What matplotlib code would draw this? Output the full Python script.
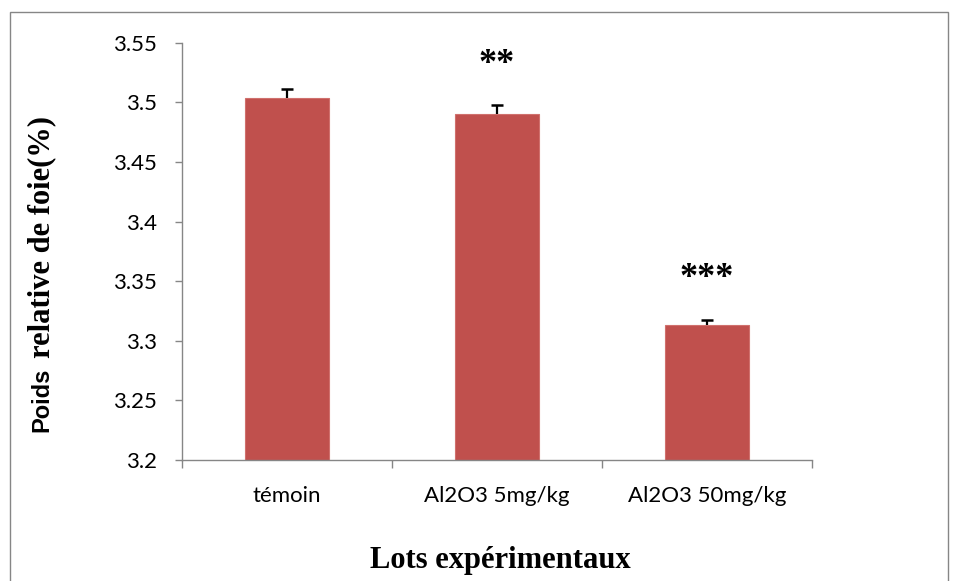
import matplotlib.pyplot as plt
import numpy as np
from matplotlib.patches import Rectangle

# data
lots = ['témoin', 'Al2O3 5mg/kg', 'Al2O3 50mg/kg']
poids = [3.504, 3.490, 3.313]
erreur = [0.0075, 0.008, 0.0045]
signif = ['', '**', '***']
signif_y = [0, 3.532, 3.352]

bar_color = '#C0504D'
axis_gray = '#868686'

fig = plt.figure(figsize=(9.58, 5.81), dpi=100)
ax = fig.add_axes([0.19, 0.2083, 0.6576, 0.7182])

x = np.arange(len(lots))
ax.bar(x, poids, width=0.4, color=bar_color, edgecolor='#D0706D', linewidth=0.8, zorder=2)
# upper error bars only (stem + top cap)
haut = np.array(poids) + np.array(erreur)
ax.vlines(x, poids, haut, color='black', linewidth=1.6, zorder=3)
ax.plot(x, haut, linestyle='none', marker='_', markersize=9, mew=1.8,
        color='black', zorder=3)

for xi, s, sy in zip(x, signif, signif_y):
    if s:
        ax.text(xi, sy, s, ha='center', va='center', fontsize=26,
                fontweight='bold', family='Liberation Serif')

ax.set_xlim(-0.5, 2.5)
ax.set_ylim(3.2, 3.55)
ax.set_yticks(np.arange(3.2, 3.5501, 0.05))
ax.set_yticklabels(['3.2', '3.25', '3.3', '3.35', '3.4', '3.45', '3.5', '3.55'],
                   family='Lato', fontsize=16)
ax.set_xticks(x)
ax.set_xticklabels(lots, family='Lato', fontsize=16)
ax.set_xticks([-0.5, 0.5, 1.5, 2.5], minor=True)
ax.tick_params(axis='x', which='major', length=0, pad=19)
ax.tick_params(axis='x', which='minor', length=6, color=axis_gray, width=1)
ax.tick_params(axis='y', length=5, color=axis_gray, width=1, pad=13)

for side in ['top', 'right']:
    ax.spines[side].set_visible(False)
for side in ['left', 'bottom']:
    ax.spines[side].set_color(axis_gray)
    ax.spines[side].set_linewidth(1)

# y label: "Poids" in sans bold, the rest in serif bold
fig.canvas.draw()
renderer = fig.canvas.get_renderer()
t1 = fig.text(42 / 958, 1 - 432 / 581, 'Poids', rotation=90, ha='center',
              va='bottom', fontsize=17, fontweight='bold', family='Liberation Sans')
h1 = t1.get_window_extent(renderer).height
t2 = fig.text(42 / 958, 1 - 432 / 581 + (h1 + 10) / 581, 'relative de foie(%)',
              rotation=90, ha='center', va='bottom', fontsize=22,
              fontweight='bold', family='Liberation Serif')

fig.text(0.522, 0.036, 'Lots expérimentaux', ha='center', va='center',
         fontsize=22, fontweight='bold', family='Liberation Serif')

# outer chart border
fig.patches.append(Rectangle((10 / 958, -0.02), 938 / 958, 1 - 12 / 581 + 0.02,
                             transform=fig.transFigure, fill=False,
                             edgecolor=axis_gray, linewidth=1))

fig.savefig('out.png', dpi=100)
